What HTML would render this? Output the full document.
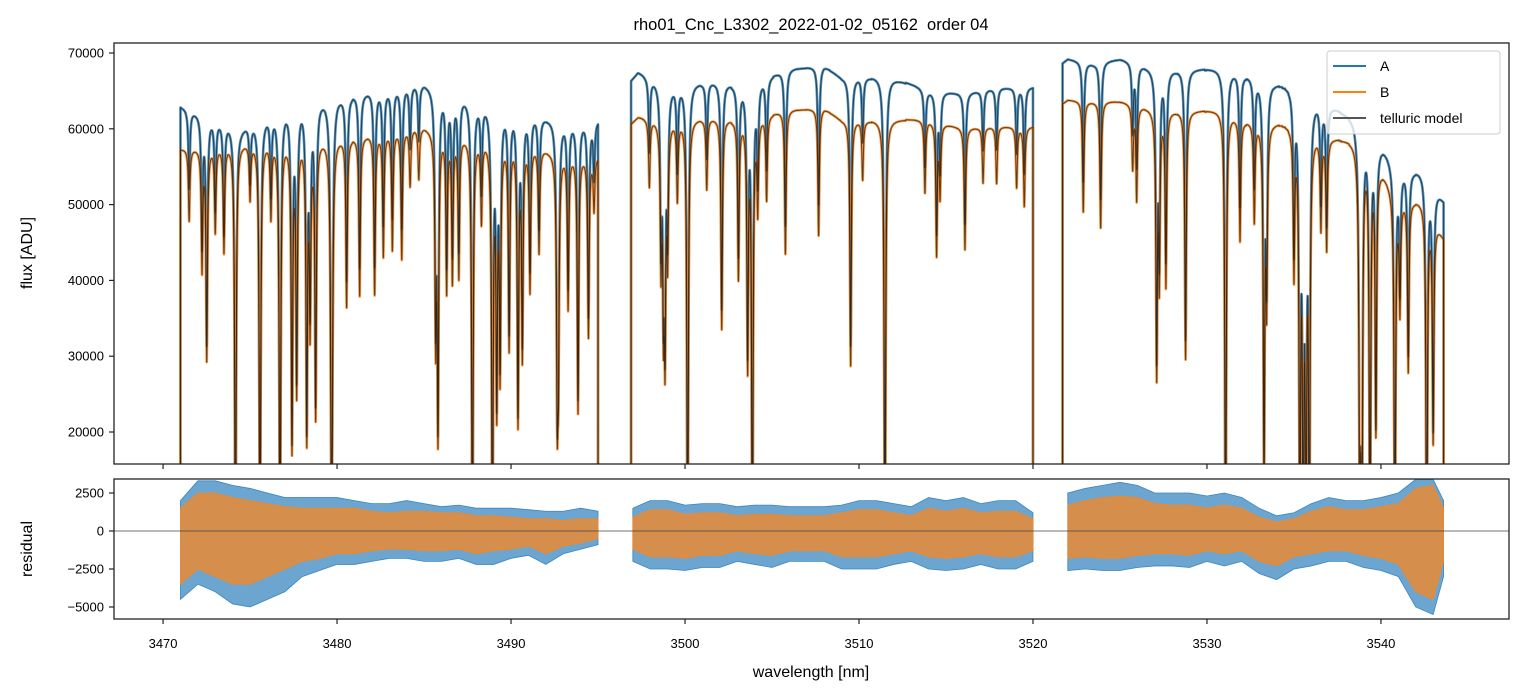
<!DOCTYPE html>
<html><head><meta charset="utf-8"><style>
html,body{margin:0;padding:0;background:#fff;}
svg{display:block;font-family:"Liberation Sans","DejaVu Sans",sans-serif;}
</style></head><body>
<svg id="chart" width="1523" height="696" viewBox="0 0 1523 696" xmlns="http://www.w3.org/2000/svg">
<defs>
<clipPath id="clipTop"><rect x="114" y="43" width="1395" height="421"/></clipPath>
<clipPath id="clipBot"><rect x="114" y="479" width="1395" height="140"/></clipPath>
</defs>
<text x="811" y="30" font-size="16.5" text-anchor="middle" fill="#000">rho01_Cnc_L3302_2022-01-02_05162&#160; order 04</text>
<g id="topMarks" clip-path="url(#clipTop)"></g>
<g id="botMarks" clip-path="url(#clipBot)"></g>
<rect x="114" y="43" width="1395" height="421" fill="none" stroke="#222" stroke-width="1.3"/>
<rect x="114" y="479" width="1395" height="140" fill="none" stroke="#222" stroke-width="1.3"/>
<g id="axes"></g>
<text transform="translate(32,253) rotate(-90)" font-size="16" text-anchor="middle">flux [ADU]</text>
<text transform="translate(32,549) rotate(-90)" font-size="16" text-anchor="middle">residual</text>
<text x="811" y="677" font-size="16" text-anchor="middle">wavelength [nm]</text>
<g>
<rect x="1327" y="51" width="173" height="83" rx="3" fill="#fff" fill-opacity="0.8" stroke="#ccc"/>
<line x1="1333" y1="66" x2="1366" y2="66" stroke="#1f77b4" stroke-width="2"/>
<text x="1380" y="71" font-size="14">A</text>
<line x1="1333" y1="92" x2="1366" y2="92" stroke="#ff7f0e" stroke-width="2"/>
<text x="1380" y="97" font-size="14">B</text>
<line x1="1333" y1="118" x2="1366" y2="118" stroke="#555" stroke-width="2"/>
<text x="1380" y="123" font-size="14">telluric model</text>
</g>
</svg>
<script>
// ---- data ----
const segStart = [3471.0, 3496.9, 3521.7];
const segEnd   = [3495.0, 3520.0, 3543.6];
const contWl = [3471,3474.5,3477.5,3481,3485,3487.5,3490,3492,3495, 3497.3,3499,3501.5,3503.5,3506,3508,3509,3511.5,3514,3516,3518,3520, 3522,3523.5,3525,3527,3529,3531,3532,3534,3535.5,3537,3539,3541,3542.5,3543.6];
const contA  = [62900,60300,63500,64700,66000,64200,62900,61500,61200, 67400,66000,66200,66000,67900,68300,66800,67000,65100,64700,65400,65500, 69200,68600,69200,68000,67800,68000,67400,66000,65800,62900,61200,55000,54600,50600];
const contB  = [57300,58200,58600,59000,60300,59000,58600,57300,56400, 61500,61400,61400,61400,62500,62700,61200,61200,61200,60100,60300,60300, 63800,63600,63600,62700,62300,62500,61200,60800,60800,58600,58600,51000,50600,45700];
const lineWl  = [3471.5,3472.24,3472.51,3473.0,3473.5,3474.16,3475.0,3475.57,3476.2,3476.72,3477.41,3477.68,3478.26,3478.45,3478.77,3479.67,3479.71,3480.55,3481.3,3482.16,3482.66,3483.18,3483.72,3484.2,3484.7,3485.67,3485.8,3486.3,3486.63,3487.0,3487.78,3488.3,3488.93,3489.18,3489.37,3489.89,3490.4,3490.65,3491.09,3491.61,3492.66,3492.72,3493.28,3493.85,3494.45,3494.77,
  3497.95,3498.62,3498.76,3498.85,3499.0,3499.56,3500.15,3501.25,3502.11,3503.07,3503.6,3503.87,3504.18,3504.69,3505.77,3507.68,3509.52,3510.21,3511.49,3513.79,3514.46,3514.66,3516.09,3517.13,3517.91,3519.06,3519.5,
  3522.89,3523.89,3525.73,3525.96,3527.11,3527.26,3527.64,3528.77,3531.07,3531.9,3532.72,3533.28,3533.43,3535.0,3535.34,3535.53,3535.69,3535.88,3536.55,3536.88,3538.79,3538.9,3539.37,3539.71,3540.8,3541.09,3541.57,3542.63,3543.0];
const lineMin = [50000,43000,30600,48000,45000,0,52000,0,50000,0,18000,26000,19400,35000,22700,21600,21600,38300,39800,40000,45300,46200,44900,55000,56000,33400,19800,40400,41800,42300,0,50000,0,23400,28200,32100,21600,30800,40000,45300,23400,30000,37800,23400,33900,51500,
  54800,44000,36500,31700,45300,52800,0,54100,34800,41800,29500,0,51500,52800,45300,47900,30000,55800,0,53300,44900,53000,45700,55000,55000,54500,51900,
  51000,48800,57300,52800,28700,41800,41000,30800,0,47500,50100,14000,38700,42700,0,0,0,0,48800,45700,0,0,0,20300,0,37400,29100,0,19400];
const resWl = [3471,3472,3473,3474,3475,3476,3477,3478,3479,3480,3481,3482,3483,3484,3485,3486,3487,3488,3489,3490,3491,3492,3493,3494,3495,
  3497,3498,3499,3500,3501,3502,3503,3504,3505,3506,3507,3508,3509,3510,3511,3512,3513,3514,3515,3516,3517,3518,3519,3520,
  3522,3523,3524,3525,3526,3527,3528,3529,3530,3531,3532,3533,3534,3535,3536,3537,3538,3539,3540,3541,3542,3543,3543.6];
const resUpA = [2000,3300,3300,3000,2800,2500,2200,2200,2200,2200,2000,1800,1800,2000,1800,1600,1700,1500,1500,1500,1400,1300,1300,1500,1300,
  1500,2000,2000,1700,1800,1800,1600,1700,1700,1600,1600,1600,1700,2000,2000,1800,1600,2200,2000,2200,1800,2000,2000,1200,
  2500,2800,3000,3200,3000,2500,2500,2500,2300,2500,2200,1500,1000,1200,1800,2200,2000,2000,2200,2500,3400,3400,2000];
const resLoA = [-4500,-3500,-4000,-4800,-5000,-4500,-4000,-3000,-2600,-2200,-2200,-2000,-1800,-1800,-2000,-2000,-1800,-2200,-2200,-1800,-1600,-2200,-1500,-1200,-900,
  -2000,-2500,-2500,-2600,-2400,-2400,-2000,-2200,-2400,-2000,-2000,-2000,-2500,-2500,-2500,-2200,-2000,-2500,-2600,-2500,-2200,-2500,-2500,-2000,
  -2600,-2500,-2600,-2600,-2400,-2300,-2300,-2400,-2000,-2300,-2000,-2800,-3200,-2500,-2300,-2000,-2000,-2400,-2600,-3000,-5000,-5500,-3000];
const resUpB = [1500,2500,2500,2200,2000,1800,1600,1500,1500,1500,1500,1300,1200,1300,1300,1200,1200,1000,1000,900,800,800,700,800,800,
  900,1400,1400,1100,1200,1200,1000,1100,1100,1000,1000,1000,1200,1400,1400,1200,1000,1500,1300,1500,1200,1300,1300,800,
  1700,2000,2200,2300,2200,1800,1700,1700,1500,1700,1500,900,600,800,1300,1600,1400,1400,1600,1800,2800,3000,1500];
const resLoB = [-3500,-2500,-3000,-3500,-3500,-3000,-2500,-2000,-1800,-1500,-1500,-1300,-1200,-1200,-1300,-1300,-1200,-1500,-1300,-1200,-1000,-1500,-1000,-800,-500,
  -1200,-1700,-1700,-1800,-1600,-1600,-1300,-1500,-1600,-1300,-1300,-1300,-1700,-1700,-1700,-1500,-1300,-1700,-1800,-1700,-1500,-1700,-1700,-1300,
  -1800,-1700,-1800,-1800,-1600,-1500,-1500,-1600,-1300,-1500,-1300,-2000,-2300,-1700,-1500,-1300,-1300,-1600,-1800,-2200,-4000,-4500,-2000];
const fluxTicks = [20000,30000,40000,50000,60000,70000];
const fluxTickLabels = ["20000","30000","40000","50000","60000","70000"];
const resTicks = [-5000,-2500,0,2500];
const resTickLabels = ["\u22125000","\u22122500","0","2500"];
const wlTicks = [3470,3480,3490,3500,3510,3520,3530,3540];
const wlTickLabels = ["3470","3480","3490","3500","3510","3520","3530","3540"];

// ---- scales ----
const X0=3467.18, X1=3547.36;
const X = w => 114 + (w - X0) * 1395 / (X1 - X0);
const YT = f => 43 + (71320 - f) * 421 / 55540;
const YB = r => 479 + (3420 - r) * 140 / 9210;
const NS='http://www.w3.org/2000/svg';
function mk(tag, attrs, parent){const e=document.createElementNS(NS,tag);for(const k in attrs)e.setAttribute(k,attrs[k]);parent.appendChild(e);return e;}
function interp(xs, ys, x){
  if(x<=xs[0])return ys[0];
  for(let i=1;i<xs.length;i++){if(x<=xs[i]){const t=(x-xs[i-1])/(xs[i]-xs[i-1]);return ys[i-1]+t*(ys[i]-ys[i-1]);}}
  return ys[ys.length-1];
}
const G=0.05;
function trans(w){
  let t=1;
  for(let i=0;i<lineWl.length;i++){
    const dx=w-lineWl[i]; if(Math.abs(dx)>1.2)continue;
    const c=(interp(contWl,contA,lineWl[i])+interp(contWl,contB,lineWl[i]))/2;
    let d=1-lineMin[i]/c; if(d>1)d=1; if(d<0)d=0;
    t*=1-d/(1+(dx/G)*(dx/G));
  }
  return t;
}
const topG=document.getElementById('topMarks');
const botG=document.getElementById('botMarks');
const axG=document.getElementById('axes');
function seriesPath(cont, s){
  let d='M'+X(segStart[s]).toFixed(2)+','+YT(14000).toFixed(2);
  for(let w=segStart[s]; w<=segEnd[s]; w+=0.004){
    const f=interp(contWl,cont,w)*trans(w);
    d+='L'+X(w).toFixed(2)+','+YT(Math.max(f,14000)).toFixed(2);
  }
  d+='L'+X(segEnd[s]).toFixed(2)+','+YT(14000).toFixed(2);
  return d;
}
for(let s=0;s<segStart.length;s++){
  const pA=mk('path',{d:seriesPath(contA,s),fill:'none',stroke:'#1f77b4','stroke-width':2.6,'stroke-opacity':0.8,'stroke-linejoin':'round'},topG);
  
  
  const pB=mk('path',{d:seriesPath(contB,s),fill:'none',stroke:'#ff7f0e','stroke-width':2.6,'stroke-opacity':0.8,'stroke-linejoin':'round'},topG);
  
  
}
for(let s=0;s<segStart.length;s++){
  for(const cont of [contA,contB]){
    const m=mk('path',{d:seriesPath(cont,s),fill:'none',stroke:'#222','stroke-width':1,'stroke-opacity':0.75},topG);
    
    
  }
}
function band(up, lo, color, op, name){
  const idx=[[],[],[]];
  for(let i=0;i<resWl.length;i++){for(let s=0;s<3;s++){if(resWl[i]>=segStart[s]-0.5&&resWl[i]<=segEnd[s]+0.5)idx[s].push(i);}}
  for(let s=0;s<3;s++){
    const ii=idx[s]; if(!ii.length)continue;
    let d='';
    ii.forEach((i,k)=>{d+=(k?'L':'M')+X(Math.min(Math.max(resWl[i],segStart[s]),segEnd[s])).toFixed(2)+','+YB(up[i]).toFixed(2);});
    for(let k=ii.length-1;k>=0;k--){const i=ii[k];d+='L'+X(Math.min(Math.max(resWl[i],segStart[s]),segEnd[s])).toFixed(2)+','+YB(lo[i]).toFixed(2);}
    d+='Z';
    const p=mk('path',{d:d,fill:color,'fill-opacity':op,stroke:color,'stroke-width':0.8},botG);
    
    
  }
}
band(resUpA,resLoA,'#3a87c0',0.75,'residual-a-band');
band(resUpB,resLoB,'#f0882a',0.8,'residual-b-band');
const zl=mk('line',{x1:114,x2:1509,y1:YB(0),y2:YB(0),stroke:'#444','stroke-width':0.8},botG);


fluxTicks.forEach((v,i)=>{
  const y=YT(v);
  mk('line',{x1:109,x2:114,y1:y,y2:y,stroke:'#222','stroke-width':1.2},axG);
  const t=mk('text',{x:104,y:y+4.5,'font-size':13,'text-anchor':'end'},axG);
  t.textContent=fluxTickLabels[i];
  
  
});
resTicks.forEach((v,i)=>{
  const y=YB(v);
  mk('line',{x1:109,x2:114,y1:y,y2:y,stroke:'#222','stroke-width':1.2},axG);
  const t=mk('text',{x:104,y:y+4.5,'font-size':13,'text-anchor':'end'},axG);
  t.textContent=resTickLabels[i];
  
  
});
wlTicks.forEach((v,i)=>{
  const x=X(v);
  mk('line',{x1:x,x2:x,y1:464,y2:469,stroke:'#222','stroke-width':1.2},axG);
  mk('line',{x1:x,x2:x,y1:619,y2:624,stroke:'#222','stroke-width':1.2},axG);
  const t=mk('text',{x:x,y:648,'font-size':13,'text-anchor':'middle'},axG);
  t.textContent=wlTickLabels[i];
  
  
});
</script>
</body></html>
